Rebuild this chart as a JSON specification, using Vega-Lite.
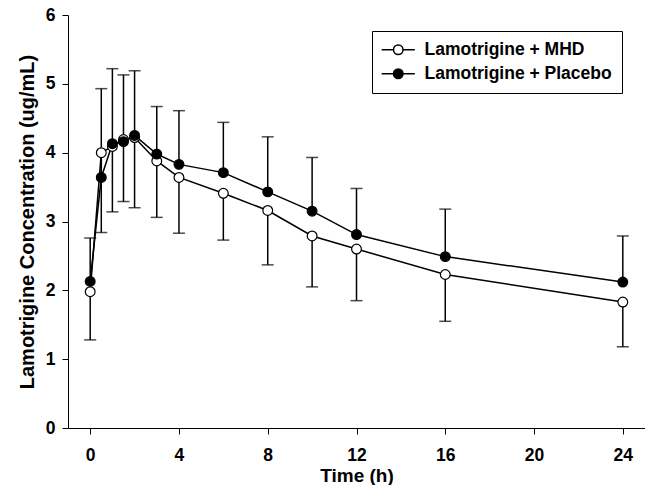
{
  "$schema": "https://vega.github.io/schema/vega-lite/v6.json",
  "autosize": "none",
  "width": 577,
  "height": 413,
  "padding": {"left": 68, "top": 15, "right": 0, "bottom": 57},
  "background": "white",
  "config": {
    "view": {"stroke": null},
    "font": "Liberation Sans",
    "axis": {
      "grid": false,
      "domainColor": "black",
      "domainWidth": 1,
      "tickColor": "black",
      "tickWidth": 1,
      "labelColor": "black",
      "titleColor": "black",
      "labelFont": "Liberation Sans",
      "titleFont": "Liberation Sans",
      "labelFontWeight": "bold",
      "titleFontWeight": "bold",
      "labelFontSize": 17.5,
      "titleFontSize": 19
    }
  },
  "data": {
    "values": [
      {"time": 0, "group": "Lamotrigine + MHD", "mean": 1.98, "end": 1.28},
      {"time": 0.5, "group": "Lamotrigine + MHD", "mean": 4.0, "end": 2.84},
      {"time": 1, "group": "Lamotrigine + MHD", "mean": 4.09, "end": 3.14},
      {"time": 1.5, "group": "Lamotrigine + MHD", "mean": 4.19, "end": 3.29},
      {"time": 2, "group": "Lamotrigine + MHD", "mean": 4.22, "end": 3.2},
      {"time": 3, "group": "Lamotrigine + MHD", "mean": 3.88, "end": 3.06},
      {"time": 4, "group": "Lamotrigine + MHD", "mean": 3.64, "end": 2.83},
      {"time": 6, "group": "Lamotrigine + MHD", "mean": 3.41, "end": 2.73},
      {"time": 8, "group": "Lamotrigine + MHD", "mean": 3.16, "end": 2.37},
      {"time": 10, "group": "Lamotrigine + MHD", "mean": 2.79, "end": 2.05},
      {"time": 12, "group": "Lamotrigine + MHD", "mean": 2.6, "end": 1.85},
      {"time": 16, "group": "Lamotrigine + MHD", "mean": 2.23, "end": 1.55},
      {"time": 24, "group": "Lamotrigine + MHD", "mean": 1.83, "end": 1.18},
      {"time": 0, "group": "Lamotrigine + Placebo", "mean": 2.13, "end": 2.76},
      {"time": 0.5, "group": "Lamotrigine + Placebo", "mean": 3.64, "end": 4.93},
      {"time": 1, "group": "Lamotrigine + Placebo", "mean": 4.13, "end": 5.22},
      {"time": 1.5, "group": "Lamotrigine + Placebo", "mean": 4.16, "end": 5.13},
      {"time": 2, "group": "Lamotrigine + Placebo", "mean": 4.25, "end": 5.19},
      {"time": 3, "group": "Lamotrigine + Placebo", "mean": 3.98, "end": 4.67},
      {"time": 4, "group": "Lamotrigine + Placebo", "mean": 3.83, "end": 4.61},
      {"time": 6, "group": "Lamotrigine + Placebo", "mean": 3.71, "end": 4.44},
      {"time": 8, "group": "Lamotrigine + Placebo", "mean": 3.43, "end": 4.23},
      {"time": 10, "group": "Lamotrigine + Placebo", "mean": 3.15, "end": 3.93},
      {"time": 12, "group": "Lamotrigine + Placebo", "mean": 2.81, "end": 3.48},
      {"time": 16, "group": "Lamotrigine + Placebo", "mean": 2.49, "end": 3.18},
      {"time": 24, "group": "Lamotrigine + Placebo", "mean": 2.12, "end": 2.79}
    ]
  },
  "encoding": {
    "x": {
      "field": "time",
      "type": "quantitative",
      "scale": {"domain": [-1, 25], "nice": false, "zero": false},
      "axis": {"values": [0, 4, 8, 12, 16, 20, 24], "format": "d", "title": "Time (h)", "tickSize": 6, "labelPadding": 12, "titlePadding": 3}
    }
  },
  "layer": [
    {
      "mark": {"type": "rule", "color": "black", "strokeWidth": 1.5},
      "encoding": {
        "y": {
          "field": "mean",
          "type": "quantitative",
          "scale": {"domain": [0, 6], "nice": false},
          "axis": {"values": [0, 1, 2, 3, 4, 5, 6], "format": "d", "title": "Lamotrigine Concentration (ug/mL)", "titleFontSize": 20, "tickSize": 6, "labelPadding": 7, "titlePadding": 8}
        },
        "y2": {"field": "end"}
      }
    },
    {
      "mark": {"type": "tick", "orient": "horizontal", "size": 12, "thickness": 1.5, "color": "black"},
      "encoding": {
        "y": {"field": "end", "type": "quantitative"}
      }
    },
    {
      "mark": {"type": "line", "color": "black", "strokeWidth": 1.5},
      "encoding": {
        "y": {"field": "mean", "type": "quantitative"},
        "detail": {"field": "group"}
      }
    },
    {
      "mark": {"type": "point", "shape": "circle", "filled": true, "size": 95, "stroke": "black", "strokeWidth": 1.2, "opacity": 1},
      "encoding": {
        "y": {"field": "mean", "type": "quantitative"},
        "fill": {
          "field": "group",
          "type": "nominal",
          "scale": {"domain": ["Lamotrigine + MHD", "Lamotrigine + Placebo"], "range": ["white", "black"]},
          "legend": {
            "title": null,
            "orient": "none",
            "legendX": 304,
            "legendY": 16,
            "padding": 10,
            "strokeColor": "black",
            "fillColor": "white",
            "symbolType": "M -3.5 0 L -1 0 M 1 0 L 3.5 0 M -1 0 A 1 1 0 1 1 1 0 A 1 1 0 1 1 -1 0 Z",
            "symbolSize": 90,
            "symbolStrokeColor": "black",
            "symbolStrokeWidth": 1.5,
            "symbolOffset": 7.5,
            "labelOffset": 17.5,
            "labelFont": "Liberation Sans",
            "labelFontWeight": "bold",
            "labelFontSize": 17.5,
            "labelColor": "black",
            "labelLimit": 400,
            "rowPadding": 5,
            "encode": {"legend": {"update": {"strokeWidth": {"value": 1.5}}}}
          }
        },
        "order": {"field": "group"}
      }
    }
  ]
}
